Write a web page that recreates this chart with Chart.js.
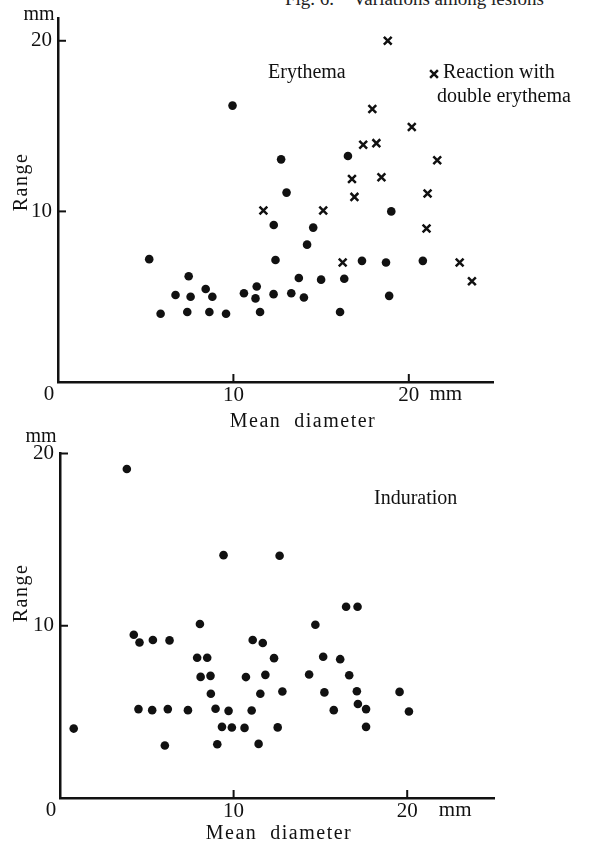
<!DOCTYPE html>
<html>
<head>
<meta charset="utf-8">
<script src="https://cdn.jsdelivr.net/npm/chart.js@4.4.1/dist/chart.umd.min.js"></script>
<style>
  body { margin: 0; background: #fff; width: 605px; height: 844px; overflow: hidden; position: relative; }
  .box { position: absolute; left: 0; width: 605px; }
  #title { position: absolute; top: -12px; left: 285px; font: 19px "Liberation Serif", serif; color: #222; white-space: nowrap; }
</style>
</head>
<body>
<div id="title">Fig. 6. &nbsp;&nbsp; Variations among lesions</div>
<div class="box" style="top:0;height:432px"><canvas id="erythema"></canvas></div>
<div class="box" style="top:425px;height:419px"><canvas id="induration"></canvas></div>
<script>
// Erythema: single reactions (dots)
const eryX = [5.2, 5.85, 6.7, 7.45, 7.37, 7.56, 8.42, 8.8, 8.63, 9.58, 9.95, 10.6, 11.33, 11.26, 11.52, 12.29, 12.4,
  12.3, 12.72, 13.03, 13.3, 13.73, 14.02, 14.2, 14.55, 15.0, 16.08, 16.32, 16.53, 17.33, 18.7, 18.88, 19.0, 20.8];
const eryY = [7.2, 4.0, 5.1, 6.2, 4.1, 5.0, 5.45, 5.0, 4.1, 4.0, 16.2, 5.2, 5.6, 4.9, 4.1, 5.15, 7.15,
  9.2, 13.05, 11.1, 5.2, 6.1, 4.95, 8.05, 9.05, 6.0, 4.1, 6.05, 13.25, 7.1, 7.0, 5.05, 10.0, 7.1];
// Erythema: reactions with double erythema (crosses)
const dblX = [11.71, 15.12, 16.23, 16.76, 16.9, 17.4, 17.92, 18.15, 18.44, 18.8, 20.17, 21.01, 21.07, 21.62, 22.9, 23.6];
const dblY = [10.05, 10.05, 7.0, 11.9, 10.85, 13.9, 16.0, 14.0, 12.0, 20.0, 14.95, 9.0, 11.05, 13.0, 7.0, 5.9];
// Induration
const indX = [0.79, 3.85, 4.25, 4.58, 5.35, 6.31, 4.52, 5.31, 6.21, 6.04, 7.37, 8.06, 7.9, 8.48, 8.1, 8.67, 8.69,
  8.96, 9.71, 9.33, 9.9, 9.06, 9.42, 10.63, 10.71, 11.04, 11.1, 11.68, 11.83, 11.54, 11.44, 12.33, 12.81, 12.54,
  12.65, 14.71, 16.48, 17.14, 15.16, 16.14, 14.35, 16.66, 15.23, 17.1, 19.56, 15.77, 17.16, 17.63, 20.1, 17.63];
const indY = [4.03, 19.1, 9.48, 9.03, 9.17, 9.15, 5.16, 5.1, 5.16, 3.05, 5.1, 10.1, 8.14, 8.14, 7.03, 7.09, 6.05,
  5.18, 5.06, 4.13, 4.09, 3.12, 14.1, 4.07, 7.02, 5.08, 9.17, 9.0, 7.15, 6.05, 3.14, 8.12, 6.18, 4.1,
  14.06, 10.06, 11.1, 11.1, 8.2, 8.06, 7.17, 7.13, 6.13, 6.2, 6.16, 5.1, 5.46, 5.16, 5.02, 4.13];
const tickVals = [10, 20];

const pts = (xs, ys) => xs.map((x, i) => ({ x: x, y: ys[i] }));
const INK = '#111';
const SERIF = '"Liberation Serif", serif';

// inward tick marks, the shared "0", "mm" units and free text, like the printed figure
const paper = {
  id: 'paper',
  afterDraw(chart, args, o) {
    const { ctx, scales: { x, y } } = chart;
    ctx.save();
    ctx.strokeStyle = INK;
    ctx.lineWidth = 2;
    tickVals.forEach(v => {
      const px = x.getPixelForValue(v), py = y.getPixelForValue(v);
      ctx.beginPath(); ctx.moveTo(px, y.bottom); ctx.lineTo(px, y.bottom - 8); ctx.stroke();
      ctx.beginPath(); ctx.moveTo(x.left, py); ctx.lineTo(x.left + 8, py); ctx.stroke();
    });
    ctx.fillStyle = INK;
    ctx.textBaseline = 'middle';
    ctx.textAlign = 'center';
    ctx.font = '21px ' + SERIF;
    ctx.fillText('0', x.left - 9, y.bottom + 12);
    ctx.fillText('mm', x.getPixelForValue(20) + o.mmDx, y.bottom + 12);
    ctx.font = '20px ' + SERIF;
    ctx.fillText('mm', x.left - 19, o.mmY);
    ctx.letterSpacing = '1.5px';
    ctx.fillText('Mean  diameter', o.titleX, o.titleY);
    ctx.save();
    ctx.translate(22, o.rangeY);
    ctx.rotate(-Math.PI / 2);
    ctx.fillText('Range', 0, 0);
    ctx.restore();
    ctx.letterSpacing = '0px';
    ctx.textAlign = 'left';
    (o.notes || []).forEach(n => {
      ctx.fillText(n.text, n.x, n.y);
      if (n.cross) {
        ctx.lineWidth = 2.5;
        Chart.helpers.drawPoint(ctx, { pointStyle: 'crossRot', radius: 5.5, borderWidth: 2.5 }, n.x - 9, n.y + 1);
      }
    });
    ctx.restore();
  }
};

function makeChart(id, datasets, xMax, yMax, left, xHeight, pad, extra) {
  return new Chart(document.getElementById(id), {
    type: 'scatter',
    data: { datasets: datasets },
    options: {
      responsive: true,
      maintainAspectRatio: false,
      animation: false,
      layout: { padding: pad },
      plugins: { legend: { display: false }, tooltip: { enabled: false }, paper: extra },
      scales: {
        x: {
          type: 'linear', min: 0, max: xMax,
          afterBuildTicks: s => { s.ticks = tickVals.map(v => ({ value: v })); },
          afterFit: s => { s.height = xHeight; },
          grid: { display: false, drawTicks: false },
          border: { display: true, color: INK, width: 2.5 },
          ticks: { color: INK, padding: 1, maxRotation: 0, font: { family: SERIF, size: 21 } }
        },
        y: {
          type: 'linear', min: 0, max: yMax,
          afterBuildTicks: s => { s.ticks = tickVals.map(v => ({ value: v })); },
          afterFit: s => { s.width = left; },
          grid: { display: false, drawTicks: false },
          border: { display: true, color: INK, width: 2.5 },
          ticks: { color: INK, padding: 6, font: { family: SERIF, size: 21 } }
        }
      }
    },
    plugins: [paper]
  });
}

const dot = { backgroundColor: INK, borderColor: INK, pointRadius: 4.3, pointBorderWidth: 0 };

makeChart('erythema', [
  Object.assign({ label: 'Erythema', data: pts(eryX, eryY) }, dot),
  { label: 'Reaction with double erythema', data: pts(dblX, dblY), pointStyle: 'crossRot',
    pointRadius: 5.5, borderColor: INK, pointBorderWidth: 2.5 }
], 24.8, 21.3, 58, 50, { top: 13, right: 112, left: 0, bottom: 0 }, {
  mmY: 15, mmDx: 37, titleX: 303, titleY: 422, rangeY: 182,
  notes: [
    { text: 'Erythema', x: 268, y: 73 },
    { text: 'Reaction with', x: 443, y: 73, cross: true },
    { text: 'double erythema', x: 437, y: 97 }
  ]
});

makeChart('induration', [
  Object.assign({ label: 'Induration', data: pts(indX, indY) }, dot)
], 25, 20, 60, 46, { top: 28.5, right: 111, left: 0, bottom: 0 }, {
  mmY: 12, mmDx: 48, titleX: 279, titleY: 409, rangeY: 168,
  notes: [ { text: 'Induration', x: 374, y: 74 } ]
});
</script>
</body>
</html>
